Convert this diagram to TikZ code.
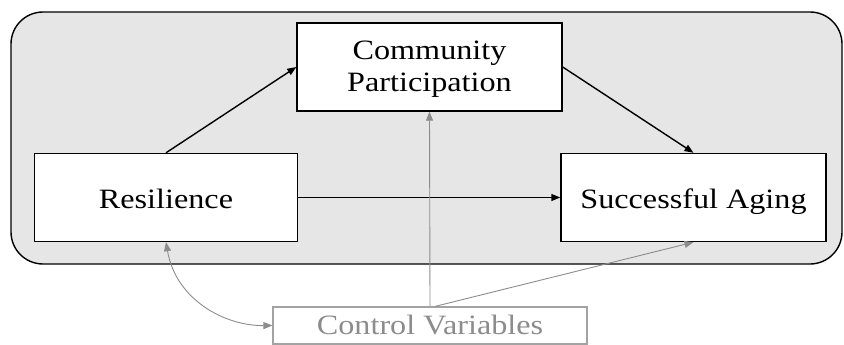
\documentclass[tikz,border=0pt]{standalone}
\usepackage{graphicx}
\usepackage{fontspec}
\setmainfont{Liberation Serif}
\usetikzlibrary{arrows.meta}
\definecolor{panelgray}{HTML}{E6E6E6}
\definecolor{ctrlgray}{HTML}{8C8C8C}
% labels are set slightly widened; the optional argument lowers the text
% inside its box without changing the box's extent
\newcommand\widelabel[2][0pt]{\raisebox{-#1}[\height][\depth]{%
  \scalebox{1.15}[1]{\begin{tabular}{@{}c@{}}#2\end{tabular}}}}
\tikzset{
  varbox/.style={draw=black, line width=1.4pt, fill=white, inner sep=0pt,
    font=\fontsize{28}{31.7}\selectfont, align=center},
  ctrlbox/.style={draw=ctrlgray!80, line width=1.2pt, fill=white, inner sep=0pt,
    text=ctrlgray, font=\fontsize{28}{31.7}\selectfont},
  causal/.style={draw=black, line width=1.4pt, -{Triangle[length=9pt,width=7pt]}},
  ctrlpath/.style={draw=ctrlgray, line width=0.9pt, -{Triangle[length=9pt,width=7pt]}},
}
\begin{document}
\begin{tikzpicture}[x=1pt,y=-1pt]
  \useasboundingbox (0,0) rectangle (844,345);
  % shaded panel holding the model
  \draw[fill=panelgray, line width=1.4pt, rounded corners=32pt] (11,12) rectangle (842,264);
  % variables
  \node[varbox, minimum width=263pt, minimum height=88pt] (res) at (166,197.5) {\widelabel[4.5pt]{Resilience}};
  \node[varbox, minimum width=265pt, minimum height=88pt] (com) at (429.5,67) {\widelabel[2.5pt]{Community\\Participation}};
  \node[varbox, minimum width=265pt, minimum height=88pt] (age) at (693.5,197.5) {\widelabel[4.5pt]{Successful Aging}};
  \node[ctrlbox, minimum width=314pt, minimum height=37pt] (ctl) at (430,325.5) {\widelabel[3pt]{Control Variables}};
  % structural paths
  \draw[causal] (res.north) -- (com.west);
  \draw[causal] (com.east) -- (age.north);
  \draw[causal] (res.east) -- (age.west);
  % covariate paths
  \draw[ctrlpath] (ctl.north) -- (com.south);
  \draw[ctrlpath] ([xshift=5pt]ctl.north) -- (age.south);
  \draw[ctrlpath, {Triangle[length=9pt,width=7pt]}-{Triangle[length=9pt,width=7pt]}]
    (res.south) .. controls (176,300) and (225,326) .. (ctl.west);
\end{tikzpicture}
\end{document}
